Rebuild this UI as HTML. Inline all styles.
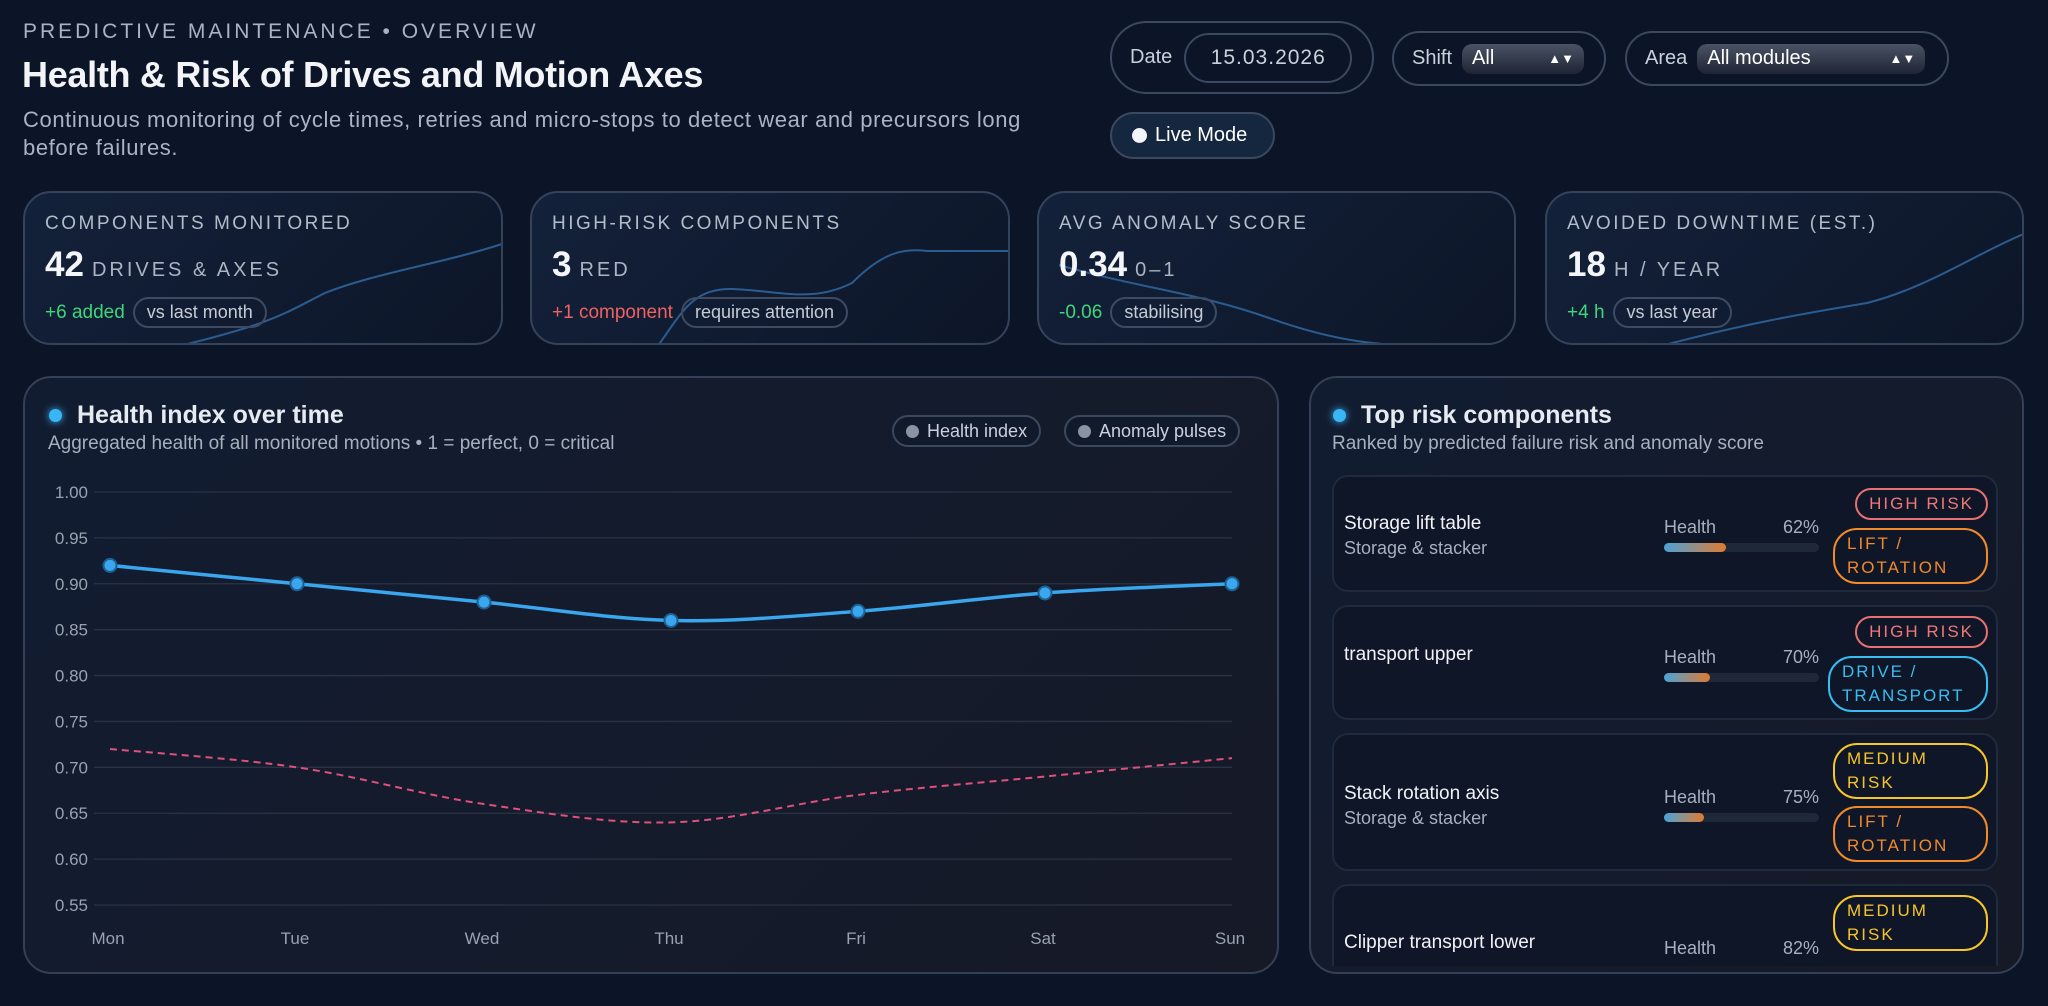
<!DOCTYPE html>
<html><head><meta charset="utf-8">
<style>
*{box-sizing:border-box;margin:0;padding:0}
body{width:2048px;height:1006px;background:#0c1427;font-family:"Liberation Sans",sans-serif;color:#e6ebf2;position:relative;overflow:hidden}
.abs{position:absolute}
.eyebrow{left:23px;top:20px;font-size:21px;letter-spacing:3px;color:#a9b3c2}
.title{left:22px;top:54px;font-size:36px;font-weight:bold;color:#f2f4f8;letter-spacing:-0.3px}
.sub{left:23px;top:106px;font-size:22px;letter-spacing:0.6px;line-height:28px;color:#aab4c3;width:1045px}
.pill{border:2px solid #3a4860;border-radius:40px;display:flex;align-items:center;font-size:20px;color:#c9d1dc}
.sel{background:linear-gradient(#4a5366,#1e2433);border-radius:10px;height:30px;display:flex;align-items:center;justify-content:space-between;padding:0 10px;color:#fff;font-size:20px}
.card{border:2px solid #34425a;border-radius:28px;background:linear-gradient(135deg,#13213a,#0d1628);overflow:hidden}
.klabel{font-size:19px;letter-spacing:2.5px;color:#b3bcc9;position:absolute;left:20px;top:20px}
.kval{position:absolute;left:20px;top:52px;font-size:35px;font-weight:bold;color:#f3f5f8}
.kval span{font-size:20px;font-weight:normal;letter-spacing:3px;color:#aab4c3;margin-left:8px}
.kfoot{position:absolute;left:20px;top:104px;font-size:19px;display:flex;align-items:center;gap:8px}
.tag{border:2px solid #3d4a60;border-radius:20px;padding:3px 12px;color:#c5ccd7;font-size:18px}
.panel{border:2px solid #353f55;border-radius:28px;background:linear-gradient(135deg,#121c31,#161a27);}
.row{position:absolute;left:1332px;width:666px;border:2px solid #1f2a3d;border-radius:16px;background:#0e1628}
.rt{position:absolute;left:10px;font-size:19px;color:#f0f2f6}
.rs{position:absolute;left:10px;font-size:18px;color:#a7b0bd}
.hl{position:absolute;left:330px;font-size:18px;color:#a7b0bd;width:155px}
.hl b{font-weight:normal;float:right}
.bar{position:absolute;left:330px;width:155px;height:9px;border-radius:5px;background:#1e2838}
.bar i{display:block;height:9px;border-radius:5px;background:linear-gradient(90deg,#4aa3d8,#e07a30)}
.badge{position:absolute;right:8px;border:2px solid;border-radius:24px;font-size:17px;letter-spacing:2px;line-height:24px;padding:2px 12px}
.red{color:#f07878;border-color:#e87070}
.org{color:#f08a2a;border-color:#f08a2a}
.blu{color:#38bdf2;border-color:#38bdf2}
.yel{color:#f6c52a;border-color:#f6c52a}
</style></head><body>
<div class="abs eyebrow">PREDICTIVE MAINTENANCE • OVERVIEW</div>
<div class="abs title">Health &amp; Risk of Drives and Motion Axes</div>
<div class="abs sub">Continuous monitoring of cycle times, retries and micro-stops to detect wear and precursors long before failures.</div>

<div class="abs pill" style="left:1110px;top:21px;width:264px;height:73px;padding-left:18px">Date
<div class="pill" style="margin-left:12px;height:50px;width:168px;justify-content:center;font-size:21px;letter-spacing:1px">15.03.2026</div></div>
<div class="abs pill" style="left:1392px;top:31px;width:214px;height:55px;padding-left:18px">Shift
<div class="sel" style="margin-left:10px;width:122px">All<span style="font-size:13px">▲▼</span></div></div>
<div class="abs pill" style="left:1625px;top:31px;width:324px;height:55px;padding-left:18px">Area
<div class="sel" style="margin-left:10px;width:228px">All modules<span style="font-size:13px">▲▼</span></div></div>
<div class="abs pill" style="left:1110px;top:112px;width:165px;height:47px;padding-left:20px;background:#15263f;color:#fff"><span style="width:15px;height:15px;border-radius:50%;background:#f2f4f8;margin-right:8px"></span>Live Mode</div>

<div class="abs card" style="left:23px;top:191px;width:480px;height:154px">
<svg class="abs" style="left:0;top:0" width="480" height="154"><path d="M150 154 C250 130,260 120,300 100 C350 80,420 70,480 50" stroke="#2b5c8f" stroke-width="2" fill="none"/></svg>
<div class="klabel">COMPONENTS MONITORED</div><div class="kval">42<span>DRIVES &amp; AXES</span></div>
<div class="kfoot"><span style="color:#3ed67a">+6 added</span><span class="tag">vs last month</span></div></div>
<div class="abs card" style="left:530px;top:191px;width:480px;height:154px">
<svg class="abs" style="left:0;top:0" width="480" height="154"><path d="M125 154 C150 120,160 95,200 96 C250 98,280 110,320 90 C350 60,370 55,395 58 L480 58" stroke="#2b5c8f" stroke-width="2" fill="none"/></svg>
<div class="klabel">HIGH-RISK COMPONENTS</div><div class="kval">3<span>RED</span></div>
<div class="kfoot"><span style="color:#f06262">+1 component</span><span class="tag">requires attention</span></div></div>
<div class="abs card" style="left:1037px;top:191px;width:479px;height:154px">
<svg class="abs" style="left:0;top:0" width="479" height="154"><path d="M20 72 C100 95,160 100,230 125 C300 150,340 152,400 154" stroke="#2b5c8f" stroke-width="2" fill="none"/></svg>
<div class="klabel">AVG ANOMALY SCORE</div><div class="kval">0.34<span>0–1</span></div>
<div class="kfoot"><span style="color:#3ed67a">-0.06</span><span class="tag">stabilising</span></div></div>
<div class="abs card" style="left:1545px;top:191px;width:479px;height:154px">
<svg class="abs" style="left:0;top:0" width="479" height="154"><path d="M110 154 C200 130,260 120,320 110 C380 95,430 60,479 40" stroke="#2b5c8f" stroke-width="2" fill="none"/></svg>
<div class="klabel">AVOIDED DOWNTIME (EST.)</div><div class="kval">18<span>H / YEAR</span></div>
<div class="kfoot"><span style="color:#3ed67a">+4 h</span><span class="tag">vs last year</span></div></div>

<div class="abs panel" style="left:23px;top:376px;width:1256px;height:598px"></div>
<div class="abs" style="left:49px;top:409px;width:13px;height:13px;border-radius:50%;background:#38b6f5;box-shadow:0 0 8px #38b6f5"></div>
<div class="abs" style="left:77px;top:401px;font-size:25px;font-weight:bold">Health index over time</div>
<div class="abs" style="left:48px;top:433px;font-size:19px;color:#a7b0bd">Aggregated health of all monitored motions • 1 = perfect, 0 = critical</div>
<div class="abs pill" style="left:892px;top:415px;height:32px;padding:0 12px;font-size:18px;background:#111a2b"><span style="width:13px;height:13px;border-radius:50%;background:#8a93a3;margin-right:8px"></span>Health index</div>
<div class="abs pill" style="left:1064px;top:415px;height:32px;padding:0 12px;font-size:18px;background:#111a2b"><span style="width:13px;height:13px;border-radius:50%;background:#8a93a3;margin-right:8px"></span>Anomaly pulses</div>
<svg id="chart" class="abs" style="left:0;top:0" width="1300" height="1006"></svg>

<div class="abs panel" style="left:1309px;top:376px;width:715px;height:598px;overflow:hidden"></div>
<div class="abs" style="left:1333px;top:409px;width:13px;height:13px;border-radius:50%;background:#38b6f5;box-shadow:0 0 8px #38b6f5"></div>
<div class="abs" style="left:1361px;top:401px;font-size:25px;font-weight:bold">Top risk components</div>
<div class="abs" style="left:1332px;top:433px;font-size:19px;color:#a7b0bd">Ranked by predicted failure risk and anomaly score</div>
<div class="abs" style="left:0;top:0;width:2048px;height:966px;overflow:hidden">
<div class="row" style="top:475px;height:117px">
<div class="rt" style="top:36px">Storage lift table</div><div class="rs" style="top:61px">Storage &amp; stacker</div>
<div class="hl" style="top:40px">Health<b>62%</b></div><div class="bar" style="top:66px"><i style="width:62px"></i></div>
<div class="badge red" style="top:11px">HIGH RISK</div><div class="badge org" style="top:51px;width:155px">LIFT /<br>ROTATION</div></div>
<div class="row" style="top:605px;height:115px">
<div class="rt" style="top:37px">transport upper</div>
<div class="hl" style="top:40px">Health<b>70%</b></div><div class="bar" style="top:66px"><i style="width:46px"></i></div>
<div class="badge red" style="top:9px">HIGH RISK</div><div class="badge blu" style="top:49px;width:160px">DRIVE /<br>TRANSPORT</div></div>
<div class="row" style="top:733px;height:138px">
<div class="rt" style="top:48px">Stack rotation axis</div><div class="rs" style="top:73px">Storage &amp; stacker</div>
<div class="hl" style="top:52px">Health<b>75%</b></div><div class="bar" style="top:78px"><i style="width:40px"></i></div>
<div class="badge yel" style="top:8px;width:155px">MEDIUM<br>RISK</div><div class="badge org" style="top:71px;width:155px">LIFT /<br>ROTATION</div></div>
<div class="row" style="top:884px;height:120px">
<div class="rt" style="top:46px">Clipper transport lower</div>
<div class="hl" style="top:52px">Health<b>82%</b></div>
<div class="badge yel" style="top:9px;width:155px">MEDIUM<br>RISK</div></div>
</div>

<script>
const days=["Mon","Tue","Wed","Thu","Fri","Sat","Sun"];
const healthValues=[0.92,0.90,0.88,0.86,0.87,0.89,0.90];
const anomalyValues=[0.72,0.70,0.66,0.64,0.67,0.69,0.71];
const yTicks=[1.00,0.95,0.90,0.85,0.80,0.75,0.70,0.65,0.60,0.55];
const NS="http://www.w3.org/2000/svg";
const svg=document.getElementById('chart');
const x0=110,x1=1232,gx0=94,y0=492,y1=905,vMax=1.00,vMin=0.55;
function xs(i){return x0+(x1-x0)*i/(days.length-1);}
function ys(v){return y0+(vMax-v)/(vMax-vMin)*(y1-y0);}
function el(t,a){const e=document.createElementNS(NS,t);for(const k in a)e.setAttribute(k,a[k]);svg.appendChild(e);return e;}
yTicks.forEach(v=>{
  const l=el('line',{x1:gx0,x2:x1,y1:ys(v),y2:ys(v),stroke:'#2a3344','stroke-width':1.3});
  
  
  const t=el('text',{x:88,y:ys(v)+6,'text-anchor':'end',fill:'#98a2b1','font-size':17,'font-family':'Liberation Sans'});
  t.textContent=v.toFixed(2);
  
  
});
days.forEach((d,i)=>{
  const t=el('text',{x:xs(i)-2,y:944,'text-anchor':'middle',fill:'#98a2b1','font-size':17,'font-family':'Liberation Sans'});
  t.textContent=d;
  
  
});
function smooth(vals){
  const p=vals.map((v,i)=>[xs(i),ys(v)]);let d='M'+p[0][0]+' '+p[0][1];
  for(let i=0;i<p.length-1;i++){const a=p[i-1]||p[i],b=p[i],c=p[i+1],e=p[i+2]||c;
    const c1=[b[0]+(c[0]-a[0])/6,b[1]+(c[1]-a[1])/6],c2=[c[0]-(e[0]-b[0])/6,c[1]-(e[1]-b[1])/6];
    d+=` C${c1[0]} ${c1[1]},${c2[0]} ${c2[1]},${c[0]} ${c[1]}`;}
  return d;}
const an=el('path',{d:smooth(anomalyValues),stroke:'#e0507a','stroke-width':2,'stroke-dasharray':'7 5',fill:'none'});


const hl=el('path',{d:smooth(healthValues),stroke:'#3aa6ee','stroke-width':3.5,fill:'none'});


healthValues.forEach((v,i)=>{
  const c=el('circle',{cx:xs(i),cy:ys(v),r:6.5,fill:'#3aa6ee',stroke:'#1d5f92','stroke-width':2});
  
  
});
</script>
</body></html>
